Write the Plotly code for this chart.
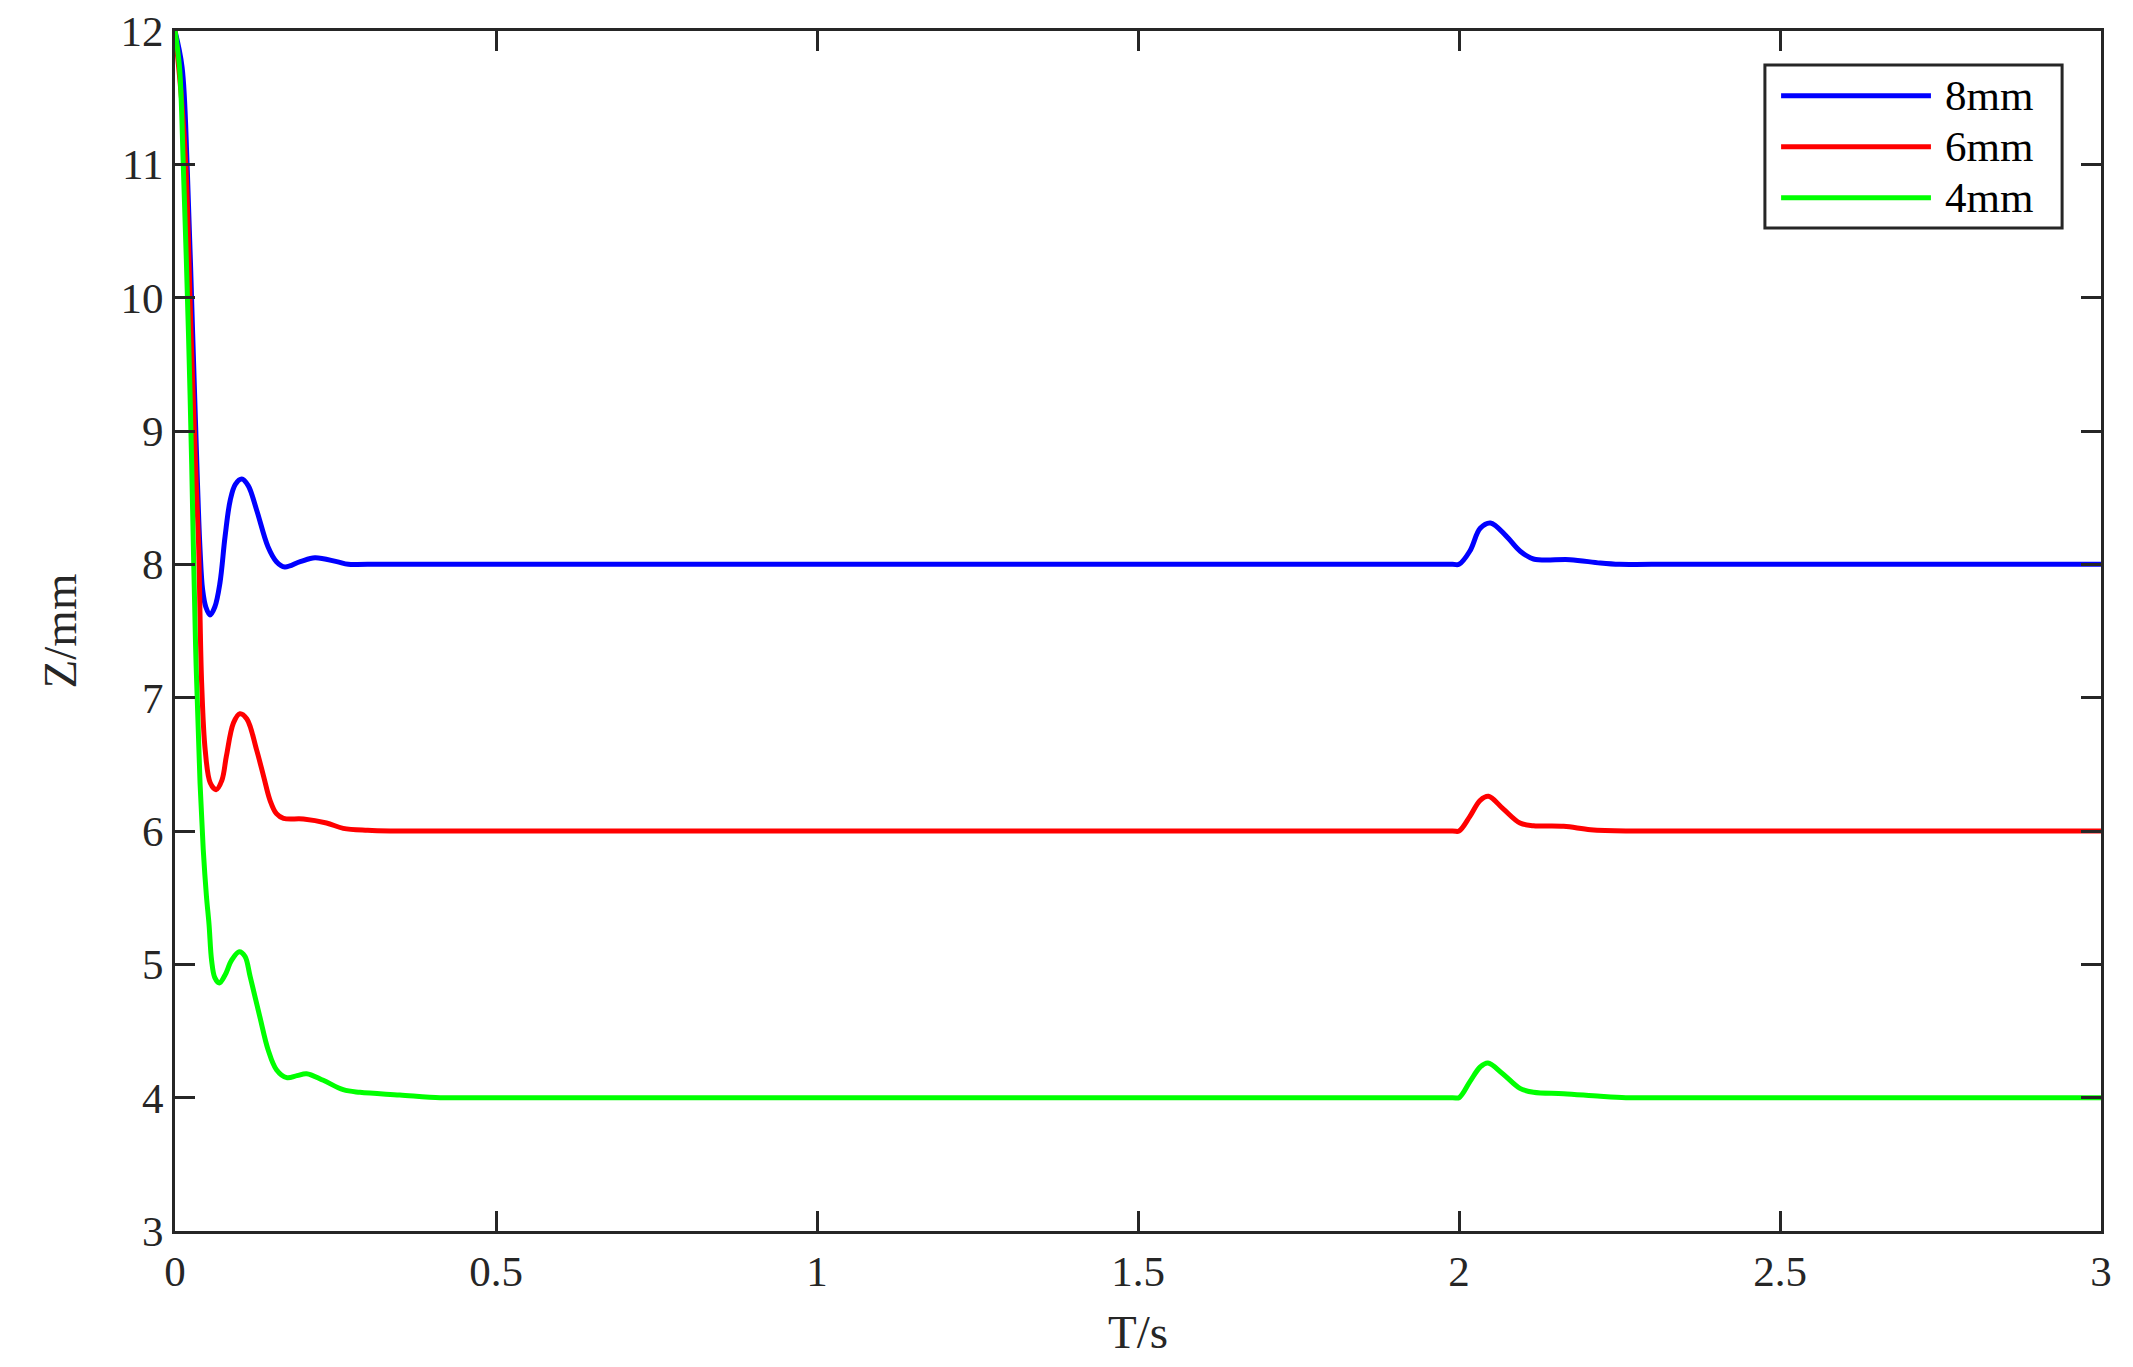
import plotly.graph_objects as go

# ---- data ----
series_names = ["8mm", "6mm", "4mm"]
series_colors = ["#0000FF", "#FF0000", "#00FF00"]

t_8mm = [0, 0.011, 0.019, 0.0275, 0.035, 0.039, 0.043, 0.048, 0.0545, 0.062, 0.070, 0.078,
         0.086, 0.094, 0.104, 0.114, 0.127, 0.145, 0.158, 0.171, 0.195, 0.218, 0.252, 0.27,
         0.3, 1.99, 2.0, 2.017, 2.033, 2.049, 2.074, 2.095, 2.116, 2.173, 2.22, 2.25, 2.3, 3.0]
z_8mm = [12, 11.73, 10.98, 9.73, 8.61, 8.11, 7.81, 7.68, 7.62, 7.68, 7.86, 8.21,
         8.48, 8.60, 8.64, 8.59, 8.41, 8.13, 8.02, 7.98, 8.02, 8.05, 8.02, 8.0,
         8.0, 8.0, 8.0, 8.10, 8.27, 8.31, 8.21, 8.10, 8.04, 8.035, 8.01, 8.0, 8.0, 8.0]

t_6mm = [0, 0.010, 0.017, 0.025, 0.033, 0.037, 0.039, 0.0415, 0.047, 0.055, 0.064, 0.073,
         0.080, 0.091, 0.101, 0.112, 0.127, 0.138, 0.148, 0.158, 0.169, 0.20, 0.236, 0.262,
         0.30, 0.335, 0.37, 1.99, 2.0, 2.017, 2.033, 2.046, 2.068, 2.095, 2.116, 2.163, 2.205,
         2.26, 2.3, 3.0]
z_6mm = [12, 11.5, 10.98, 9.73, 8.61, 8.11, 7.61, 7.11, 6.61, 6.36, 6.31, 6.38,
         6.56, 6.81, 6.88, 6.84, 6.61, 6.41, 6.23, 6.13, 6.095, 6.09, 6.06, 6.02,
         6.005, 6.0, 6.0, 6.0, 6.0, 6.11, 6.23, 6.26, 6.17, 6.06, 6.04, 6.035, 6.01,
         6.0, 6.0, 6.0]

t_4mm = [0, 0.007, 0.013, 0.021, 0.026, 0.032, 0.039, 0.044, 0.049, 0.053, 0.057, 0.062,
         0.069, 0.078, 0.088, 0.100, 0.109, 0.117, 0.132, 0.145, 0.158, 0.174, 0.190, 0.205,
         0.231, 0.262, 0.288, 0.35, 0.413, 0.45, 1.99, 2.0, 2.017, 2.033, 2.045, 2.068, 2.095,
         2.116, 2.163, 2.22, 2.26, 2.3, 3.0]
z_4mm = [12, 11.73, 10.98, 9.73, 8.75, 7.4, 6.36, 5.86, 5.51, 5.3, 5.03, 4.9,
         4.86, 4.92, 5.03, 5.095, 5.06, 4.91, 4.61, 4.36, 4.21, 4.15, 4.165, 4.18,
         4.13, 4.06, 4.04, 4.02, 4.0, 4.0, 4.0, 4.0, 4.12, 4.23, 4.26, 4.18, 4.07,
         4.04, 4.03, 4.01, 4.0, 4.0, 4.0]

x_ticks = [0, 0.5, 1, 1.5, 2, 2.5, 3]
y_ticks = [3, 4, 5, 6, 7, 8, 9, 10, 11, 12]
x_title = "T/s"
y_title = "Z/mm"

series_t = [t_8mm, t_6mm, t_4mm]
series_z = [z_8mm, z_6mm, z_4mm]

FONT = "Liberation Serif, Times New Roman, serif"
AX = "#262626"

fig = go.Figure()
for name, col, t, z in zip(series_names, series_colors, series_t, series_z):
    fig.add_trace(go.Scatter(x=t, y=z, mode="lines", name=name,
                             line=dict(color=col, width=5, shape="spline", smoothing=1.0),
                             showlegend=False))

axis_common = dict(showline=True, mirror="ticks", linecolor=AX, linewidth=3,
                   ticks="inside", ticklen=20, tickwidth=3, tickcolor=AX,
                   showgrid=False, zeroline=False, automargin=False,
                   tickfont=dict(family=FONT, size=43, color=AX))

fig.update_xaxes(range=[0, 3], tickvals=x_ticks, ticktext=[f"{v:g}" for v in x_ticks],
                 title=dict(text=x_title, font=dict(family=FONT, size=47, color=AX), standoff=22),
                 **axis_common)
fig.update_yaxes(range=[3, 12], tickvals=y_ticks, ticktext=[str(v) for v in y_ticks],
                 title=dict(text=y_title, font=dict(family=FONT, size=47, color=AX), standoff=29),
                 **axis_common)

# ---- legend box (MATLAB style, long line samples) ----
lx0, lx1, ly0, ly1 = 0.8255, 0.9798, 0.8358, 0.9717
fig.add_shape(type="rect", xref="paper", yref="paper", x0=lx0, x1=lx1, y0=ly0, y1=ly1,
              line=dict(color=AX, width=3), fillcolor="white", layer="above")
row_y = [0.9461, 0.9036, 0.8611]
for name, col, ry in zip(series_names, series_colors, row_y):
    fig.add_shape(type="line", xref="paper", yref="paper", x0=0.8339, x1=0.9117, y0=ry, y1=ry,
                  line=dict(color=col, width=5), layer="above")
    fig.add_annotation(xref="paper", yref="paper", x=0.918, y=ry, text=name, showarrow=False,
                       xanchor="left", yanchor="middle",
                       font=dict(family=FONT, size=43, color="black"))

# page body has an 8px default margin: shrink figure and margins accordingly
fig.update_layout(width=2125, height=1359, autosize=False,
                  margin=dict(l=167, r=32, t=23, b=136),
                  paper_bgcolor="white", plot_bgcolor="white",
                  font=dict(family=FONT, size=43, color=AX))

fig.write_html("out.html")
